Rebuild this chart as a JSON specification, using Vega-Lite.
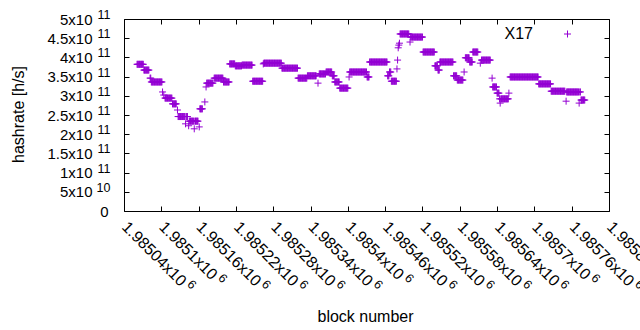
{
"$schema": "https://vega.github.io/schema/vega-lite/v6.json",
"width": 485, "height": 192,
"autosize": {"type": "none"},
"padding": {"left": 124, "top": 19, "right": 31, "bottom": 119},
"background": "white",
"config": {
 "font": "Liberation Sans",
 "view": {"stroke": null},
 "axis": {"domain": false, "grid": false, "tickColor": "#000", "tickSize": -5, "tickWidth": 1, "labelColor": "#000", "labelFont": "Liberation Sans", "labelFontSize": 15, "titleFont": "Liberation Sans", "titleFontSize": 16, "titleFontWeight": "normal", "titleColor": "#000", "labelFlush": false, "labelOverlap": false, "labelBound": false}
},
"data": {"values": [
{"b":1985061,"h":3.82e11},{"b":1985062,"h":3.82e11},{"b":1985063,"h":3.82e11},{"b":1985064,"h":3.82e11},{"b":1985065,"h":3.82e11},{"b":1985066,"h":3.82e11},{"b":1985067,"h":3.82e11},{"b":1985068,"h":3.82e11},{"b":1985069,"h":3.82e11},{"b":1985070,"h":3.82e11},{"b":1985071,"h":3.82e11},
{"b":1985072,"h":3.67e11},{"b":1985073,"h":3.67e11},{"b":1985074,"h":3.67e11},{"b":1985075,"h":3.67e11},{"b":1985076,"h":3.67e11},{"b":1985077,"h":3.67e11},{"b":1985078,"h":3.67e11},{"b":1985079,"h":3.67e11},{"b":1985080,"h":3.67e11},
{"b":1985082,"h":3.46e11},{"b":1985083,"h":3.46e11},
{"b":1985084,"h":3.36e11},{"b":1985085,"h":3.36e11},{"b":1985086,"h":3.36e11},{"b":1985087,"h":3.36e11},{"b":1985088,"h":3.36e11},{"b":1985089,"h":3.36e11},{"b":1985090,"h":3.36e11},{"b":1985091,"h":3.36e11},{"b":1985092,"h":3.36e11},{"b":1985093,"h":3.36e11},{"b":1985094,"h":3.36e11},{"b":1985095,"h":3.36e11},{"b":1985096,"h":3.36e11},{"b":1985097,"h":3.36e11},{"b":1985098,"h":3.36e11},{"b":1985099,"h":3.36e11},{"b":1985100,"h":3.36e11},{"b":1985101,"h":3.36e11},
{"b":1985102,"h":3.10e11},{"b":1985104,"h":3.02e11},
{"b":1985106,"h":2.94e11},{"b":1985107,"h":2.94e11},{"b":1985108,"h":2.94e11},{"b":1985109,"h":2.94e11},{"b":1985110,"h":2.94e11},{"b":1985111,"h":2.94e11},{"b":1985112,"h":2.94e11},{"b":1985113,"h":2.94e11},{"b":1985114,"h":2.94e11},{"b":1985115,"h":2.94e11},{"b":1985116,"h":2.94e11},{"b":1985117,"h":2.94e11},
{"b":1985118,"h":2.79e11},{"b":1985119,"h":2.79e11},{"b":1985120,"h":2.79e11},{"b":1985121,"h":2.79e11},{"b":1985122,"h":2.79e11},{"b":1985123,"h":2.79e11},{"b":1985124,"h":2.79e11},
{"b":1985126,"h":2.63e11},
{"b":1985127,"h":2.46e11},{"b":1985128,"h":2.46e11},{"b":1985129,"h":2.46e11},{"b":1985130,"h":2.46e11},{"b":1985131,"h":2.46e11},{"b":1985132,"h":2.46e11},{"b":1985133,"h":2.46e11},{"b":1985134,"h":2.46e11},{"b":1985135,"h":2.46e11},{"b":1985136,"h":2.46e11},{"b":1985137,"h":2.46e11},{"b":1985138,"h":2.46e11},{"b":1985140,"h":2.46e11},{"b":1985141,"h":2.46e11},{"b":1985142,"h":2.46e11},
{"b":1985139,"h":2.27e11},{"b":1985144,"h":2.22e11},
{"b":1985145,"h":2.34e11},{"b":1985146,"h":2.34e11},{"b":1985147,"h":2.34e11},{"b":1985148,"h":2.34e11},{"b":1985149,"h":2.34e11},{"b":1985150,"h":2.34e11},{"b":1985151,"h":2.34e11},{"b":1985152,"h":2.34e11},{"b":1985154,"h":2.34e11},{"b":1985155,"h":2.34e11},{"b":1985156,"h":2.34e11},{"b":1985157,"h":2.34e11},{"b":1985158,"h":2.34e11},{"b":1985159,"h":2.34e11},
{"b":1985153,"h":2.14e11},{"b":1985161,"h":2.19e11},
{"b":1985162,"h":2.66e11},{"b":1985163,"h":2.66e11},{"b":1985164,"h":2.66e11},{"b":1985165,"h":2.66e11},{"b":1985166,"h":2.66e11},
{"b":1985170,"h":2.84e11},{"b":1985172,"h":3.23e11},
{"b":1985173,"h":3.33e11},{"b":1985174,"h":3.33e11},{"b":1985175,"h":3.33e11},{"b":1985176,"h":3.33e11},{"b":1985177,"h":3.33e11},{"b":1985178,"h":3.33e11},{"b":1985179,"h":3.33e11},{"b":1985180,"h":3.33e11},{"b":1985181,"h":3.33e11},{"b":1985182,"h":3.33e11},{"b":1985183,"h":3.33e11},
{"b":1985185,"h":3.46e11},{"b":1985186,"h":3.46e11},{"b":1985187,"h":3.46e11},{"b":1985188,"h":3.46e11},{"b":1985189,"h":3.46e11},{"b":1985190,"h":3.46e11},{"b":1985191,"h":3.46e11},{"b":1985192,"h":3.46e11},{"b":1985193,"h":3.46e11},{"b":1985194,"h":3.46e11},{"b":1985195,"h":3.46e11},{"b":1985196,"h":3.46e11},{"b":1985197,"h":3.46e11},{"b":1985198,"h":3.46e11},{"b":1985199,"h":3.46e11},
{"b":1985200,"h":3.36e11},{"b":1985201,"h":3.36e11},{"b":1985202,"h":3.36e11},{"b":1985203,"h":3.36e11},{"b":1985204,"h":3.36e11},{"b":1985205,"h":3.36e11},{"b":1985206,"h":3.36e11},{"b":1985207,"h":3.36e11},{"b":1985208,"h":3.36e11},{"b":1985209,"h":3.36e11},
{"b":1985210,"h":3.83e11},{"b":1985211,"h":3.83e11},{"b":1985212,"h":3.83e11},{"b":1985213,"h":3.83e11},{"b":1985214,"h":3.83e11},{"b":1985215,"h":3.83e11},{"b":1985216,"h":3.83e11},{"b":1985217,"h":3.83e11},{"b":1985218,"h":3.83e11},
{"b":1985219,"h":3.78e11},{"b":1985220,"h":3.78e11},{"b":1985221,"h":3.78e11},{"b":1985222,"h":3.78e11},{"b":1985223,"h":3.78e11},{"b":1985224,"h":3.78e11},{"b":1985225,"h":3.78e11},{"b":1985226,"h":3.78e11},{"b":1985227,"h":3.78e11},{"b":1985228,"h":3.78e11},{"b":1985229,"h":3.78e11},
{"b":1985230,"h":3.80e11},{"b":1985231,"h":3.80e11},{"b":1985232,"h":3.80e11},{"b":1985233,"h":3.80e11},{"b":1985234,"h":3.80e11},{"b":1985235,"h":3.80e11},{"b":1985236,"h":3.80e11},{"b":1985237,"h":3.80e11},{"b":1985238,"h":3.80e11},{"b":1985239,"h":3.80e11},{"b":1985240,"h":3.80e11},{"b":1985241,"h":3.80e11},{"b":1985242,"h":3.80e11},{"b":1985243,"h":3.80e11},{"b":1985244,"h":3.80e11},{"b":1985245,"h":3.80e11},{"b":1985246,"h":3.80e11},
{"b":1985247,"h":3.38e11},{"b":1985248,"h":3.38e11},{"b":1985249,"h":3.38e11},{"b":1985250,"h":3.38e11},{"b":1985251,"h":3.38e11},{"b":1985252,"h":3.38e11},{"b":1985253,"h":3.38e11},{"b":1985254,"h":3.38e11},{"b":1985255,"h":3.38e11},{"b":1985256,"h":3.38e11},{"b":1985257,"h":3.38e11},{"b":1985258,"h":3.38e11},{"b":1985259,"h":3.38e11},{"b":1985260,"h":3.38e11},{"b":1985261,"h":3.38e11},{"b":1985262,"h":3.38e11},{"b":1985263,"h":3.38e11},
{"b":1985264,"h":3.83e11},
{"b":1985265,"h":3.85e11},{"b":1985266,"h":3.85e11},{"b":1985267,"h":3.85e11},{"b":1985268,"h":3.85e11},{"b":1985269,"h":3.85e11},{"b":1985270,"h":3.85e11},{"b":1985271,"h":3.85e11},{"b":1985272,"h":3.85e11},{"b":1985273,"h":3.85e11},{"b":1985274,"h":3.85e11},{"b":1985275,"h":3.85e11},{"b":1985276,"h":3.85e11},{"b":1985277,"h":3.85e11},{"b":1985278,"h":3.85e11},{"b":1985279,"h":3.85e11},{"b":1985280,"h":3.85e11},{"b":1985281,"h":3.85e11},{"b":1985282,"h":3.85e11},{"b":1985283,"h":3.85e11},{"b":1985284,"h":3.85e11},{"b":1985285,"h":3.85e11},{"b":1985286,"h":3.85e11},{"b":1985287,"h":3.85e11},{"b":1985288,"h":3.85e11},{"b":1985289,"h":3.85e11},{"b":1985290,"h":3.85e11},{"b":1985291,"h":3.85e11},{"b":1985292,"h":3.85e11},{"b":1985293,"h":3.85e11},
{"b":1985294,"h":3.72e11},{"b":1985295,"h":3.72e11},{"b":1985296,"h":3.72e11},{"b":1985297,"h":3.72e11},{"b":1985298,"h":3.72e11},{"b":1985299,"h":3.72e11},{"b":1985300,"h":3.72e11},{"b":1985301,"h":3.72e11},{"b":1985302,"h":3.72e11},{"b":1985303,"h":3.72e11},{"b":1985304,"h":3.72e11},{"b":1985305,"h":3.72e11},{"b":1985306,"h":3.72e11},{"b":1985307,"h":3.72e11},{"b":1985308,"h":3.72e11},{"b":1985309,"h":3.72e11},{"b":1985310,"h":3.72e11},{"b":1985311,"h":3.72e11},{"b":1985312,"h":3.72e11},{"b":1985313,"h":3.72e11},{"b":1985314,"h":3.72e11},{"b":1985315,"h":3.72e11},{"b":1985316,"h":3.72e11},{"b":1985317,"h":3.72e11},{"b":1985318,"h":3.72e11},{"b":1985319,"h":3.72e11},
{"b":1985320,"h":3.46e11},{"b":1985321,"h":3.46e11},{"b":1985322,"h":3.46e11},{"b":1985323,"h":3.46e11},{"b":1985324,"h":3.46e11},{"b":1985325,"h":3.46e11},{"b":1985326,"h":3.46e11},{"b":1985327,"h":3.46e11},{"b":1985328,"h":3.46e11},{"b":1985329,"h":3.46e11},{"b":1985330,"h":3.46e11},{"b":1985331,"h":3.46e11},{"b":1985332,"h":3.46e11},{"b":1985333,"h":3.46e11},{"b":1985334,"h":3.46e11},
{"b":1985335,"h":3.52e11},{"b":1985336,"h":3.52e11},{"b":1985337,"h":3.52e11},{"b":1985338,"h":3.52e11},{"b":1985339,"h":3.52e11},{"b":1985340,"h":3.52e11},{"b":1985341,"h":3.52e11},{"b":1985342,"h":3.52e11},{"b":1985343,"h":3.52e11},{"b":1985344,"h":3.52e11},{"b":1985345,"h":3.52e11},{"b":1985346,"h":3.52e11},{"b":1985347,"h":3.52e11},{"b":1985348,"h":3.52e11},{"b":1985349,"h":3.52e11},
{"b":1985352,"h":3.33e11},
{"b":1985354,"h":3.57e11},{"b":1985355,"h":3.57e11},{"b":1985356,"h":3.57e11},{"b":1985357,"h":3.57e11},{"b":1985358,"h":3.57e11},{"b":1985359,"h":3.57e11},{"b":1985360,"h":3.57e11},{"b":1985361,"h":3.57e11},{"b":1985362,"h":3.57e11},{"b":1985363,"h":3.57e11},{"b":1985364,"h":3.57e11},
{"b":1985365,"h":3.62e11},{"b":1985366,"h":3.62e11},{"b":1985367,"h":3.62e11},{"b":1985368,"h":3.62e11},{"b":1985369,"h":3.62e11},{"b":1985370,"h":3.62e11},{"b":1985371,"h":3.62e11},{"b":1985372,"h":3.62e11},{"b":1985373,"h":3.62e11},{"b":1985374,"h":3.62e11},
{"b":1985375,"h":3.52e11},{"b":1985376,"h":3.52e11},{"b":1985377,"h":3.52e11},{"b":1985378,"h":3.52e11},
{"b":1985379,"h":3.36e11},{"b":1985380,"h":3.36e11},{"b":1985381,"h":3.36e11},{"b":1985382,"h":3.36e11},{"b":1985383,"h":3.36e11},{"b":1985384,"h":3.36e11},{"b":1985385,"h":3.36e11},{"b":1985386,"h":3.36e11},
{"b":1985387,"h":3.20e11},{"b":1985388,"h":3.20e11},{"b":1985389,"h":3.20e11},{"b":1985390,"h":3.20e11},{"b":1985391,"h":3.20e11},{"b":1985392,"h":3.20e11},{"b":1985393,"h":3.20e11},{"b":1985394,"h":3.20e11},{"b":1985395,"h":3.20e11},{"b":1985396,"h":3.20e11},{"b":1985397,"h":3.20e11},{"b":1985398,"h":3.20e11},{"b":1985399,"h":3.20e11},{"b":1985400,"h":3.20e11},
{"b":1985402,"h":3.49e11},
{"b":1985403,"h":3.62e11},{"b":1985404,"h":3.62e11},{"b":1985405,"h":3.62e11},{"b":1985406,"h":3.62e11},{"b":1985407,"h":3.62e11},{"b":1985408,"h":3.62e11},{"b":1985409,"h":3.62e11},{"b":1985410,"h":3.62e11},{"b":1985411,"h":3.62e11},{"b":1985412,"h":3.62e11},{"b":1985413,"h":3.62e11},{"b":1985414,"h":3.62e11},{"b":1985415,"h":3.62e11},{"b":1985416,"h":3.62e11},{"b":1985417,"h":3.62e11},{"b":1985418,"h":3.62e11},{"b":1985419,"h":3.62e11},{"b":1985420,"h":3.62e11},{"b":1985421,"h":3.62e11},{"b":1985422,"h":3.62e11},{"b":1985423,"h":3.62e11},{"b":1985424,"h":3.62e11},{"b":1985425,"h":3.62e11},{"b":1985426,"h":3.62e11},{"b":1985427,"h":3.62e11},{"b":1985428,"h":3.62e11},{"b":1985429,"h":3.62e11},{"b":1985430,"h":3.62e11},
{"b":1985431,"h":3.49e11},{"b":1985432,"h":3.49e11},{"b":1985433,"h":3.49e11},{"b":1985434,"h":3.49e11},
{"b":1985435,"h":3.88e11},{"b":1985436,"h":3.88e11},{"b":1985437,"h":3.88e11},{"b":1985438,"h":3.88e11},{"b":1985439,"h":3.88e11},{"b":1985440,"h":3.88e11},{"b":1985441,"h":3.88e11},{"b":1985442,"h":3.88e11},{"b":1985443,"h":3.88e11},{"b":1985444,"h":3.88e11},{"b":1985445,"h":3.88e11},{"b":1985446,"h":3.88e11},{"b":1985447,"h":3.88e11},{"b":1985448,"h":3.88e11},{"b":1985449,"h":3.88e11},{"b":1985450,"h":3.88e11},{"b":1985451,"h":3.88e11},{"b":1985452,"h":3.88e11},{"b":1985453,"h":3.88e11},{"b":1985454,"h":3.88e11},{"b":1985455,"h":3.88e11},{"b":1985456,"h":3.88e11},{"b":1985457,"h":3.88e11},{"b":1985458,"h":3.88e11},{"b":1985459,"h":3.88e11},{"b":1985460,"h":3.88e11},{"b":1985461,"h":3.88e11},{"b":1985462,"h":3.88e11},{"b":1985463,"h":3.88e11},
{"b":1985464,"h":3.52e11},{"b":1985465,"h":3.52e11},{"b":1985466,"h":3.52e11},
{"b":1985467,"h":3.62e11},{"b":1985468,"h":3.62e11},{"b":1985469,"h":3.62e11},
{"b":1985470,"h":3.38e11},{"b":1985471,"h":3.38e11},{"b":1985472,"h":3.38e11},{"b":1985473,"h":3.38e11},{"b":1985474,"h":3.38e11},{"b":1985475,"h":3.38e11},{"b":1985476,"h":3.38e11},{"b":1985477,"h":3.38e11},{"b":1985478,"h":3.38e11},
{"b":1985479,"h":3.70e11},{"b":1985480,"h":3.93e11},{"b":1985481,"h":4.25e11},{"b":1985482,"h":4.32e11},{"b":1985483,"h":4.37e11},
{"b":1985484,"h":4.61e11},{"b":1985485,"h":4.61e11},{"b":1985486,"h":4.61e11},{"b":1985487,"h":4.61e11},{"b":1985488,"h":4.61e11},{"b":1985489,"h":4.61e11},{"b":1985490,"h":4.61e11},{"b":1985491,"h":4.61e11},{"b":1985492,"h":4.61e11},{"b":1985493,"h":4.61e11},{"b":1985494,"h":4.61e11},{"b":1985495,"h":4.61e11},{"b":1985496,"h":4.61e11},{"b":1985497,"h":4.61e11},{"b":1985498,"h":4.61e11},
{"b":1985500,"h":4.40e11},
{"b":1985501,"h":4.53e11},{"b":1985502,"h":4.53e11},{"b":1985503,"h":4.53e11},{"b":1985504,"h":4.53e11},{"b":1985505,"h":4.53e11},{"b":1985506,"h":4.53e11},{"b":1985507,"h":4.53e11},{"b":1985508,"h":4.53e11},{"b":1985509,"h":4.53e11},{"b":1985510,"h":4.53e11},{"b":1985511,"h":4.53e11},{"b":1985512,"h":4.53e11},{"b":1985513,"h":4.53e11},{"b":1985514,"h":4.53e11},{"b":1985515,"h":4.53e11},{"b":1985516,"h":4.53e11},{"b":1985517,"h":4.53e11},{"b":1985518,"h":4.53e11},{"b":1985519,"h":4.53e11},{"b":1985520,"h":4.53e11},
{"b":1985521,"h":4.14e11},{"b":1985522,"h":4.14e11},{"b":1985523,"h":4.14e11},{"b":1985524,"h":4.14e11},{"b":1985525,"h":4.14e11},{"b":1985526,"h":4.14e11},{"b":1985527,"h":4.14e11},{"b":1985528,"h":4.14e11},{"b":1985529,"h":4.14e11},{"b":1985530,"h":4.14e11},{"b":1985531,"h":4.14e11},{"b":1985532,"h":4.14e11},{"b":1985533,"h":4.14e11},{"b":1985534,"h":4.14e11},{"b":1985535,"h":4.14e11},{"b":1985536,"h":4.14e11},{"b":1985537,"h":4.14e11},{"b":1985538,"h":4.14e11},{"b":1985539,"h":4.14e11},
{"b":1985540,"h":3.78e11},{"b":1985541,"h":3.78e11},{"b":1985542,"h":3.78e11},{"b":1985543,"h":3.78e11},{"b":1985544,"h":3.78e11},
{"b":1985545,"h":3.67e11},{"b":1985546,"h":3.67e11},{"b":1985547,"h":3.67e11},
{"b":1985548,"h":3.88e11},{"b":1985549,"h":3.88e11},{"b":1985550,"h":3.88e11},{"b":1985551,"h":3.88e11},{"b":1985552,"h":3.88e11},{"b":1985553,"h":3.88e11},{"b":1985554,"h":3.88e11},{"b":1985555,"h":3.88e11},{"b":1985556,"h":3.88e11},{"b":1985557,"h":3.88e11},{"b":1985558,"h":3.88e11},{"b":1985559,"h":3.88e11},{"b":1985560,"h":3.88e11},{"b":1985561,"h":3.88e11},{"b":1985562,"h":3.88e11},{"b":1985563,"h":3.88e11},{"b":1985564,"h":3.88e11},{"b":1985565,"h":3.88e11},{"b":1985566,"h":3.88e11},{"b":1985567,"h":3.88e11},{"b":1985568,"h":3.88e11},{"b":1985569,"h":3.88e11},
{"b":1985570,"h":3.52e11},{"b":1985571,"h":3.52e11},{"b":1985572,"h":3.52e11},{"b":1985573,"h":3.52e11},{"b":1985574,"h":3.52e11},{"b":1985575,"h":3.52e11},
{"b":1985576,"h":3.41e11},{"b":1985577,"h":3.41e11},{"b":1985578,"h":3.41e11},{"b":1985579,"h":3.41e11},{"b":1985580,"h":3.41e11},{"b":1985581,"h":3.41e11},{"b":1985582,"h":3.41e11},{"b":1985583,"h":3.41e11},{"b":1985584,"h":3.41e11},{"b":1985585,"h":3.41e11},
{"b":1985587,"h":3.62e11},
{"b":1985589,"h":3.99e11},{"b":1985590,"h":3.99e11},{"b":1985591,"h":3.99e11},{"b":1985592,"h":3.99e11},{"b":1985593,"h":3.99e11},{"b":1985594,"h":3.99e11},{"b":1985595,"h":3.99e11},
{"b":1985596,"h":3.88e11},{"b":1985597,"h":3.88e11},{"b":1985598,"h":3.88e11},{"b":1985599,"h":3.88e11},{"b":1985600,"h":3.88e11},
{"b":1985601,"h":4.14e11},{"b":1985602,"h":4.14e11},{"b":1985603,"h":4.14e11},{"b":1985604,"h":4.14e11},{"b":1985605,"h":4.14e11},{"b":1985606,"h":4.14e11},{"b":1985607,"h":4.14e11},{"b":1985608,"h":4.14e11},{"b":1985609,"h":4.14e11},
{"b":1985613,"h":3.85e11},
{"b":1985615,"h":3.93e11},{"b":1985616,"h":3.93e11},{"b":1985617,"h":3.93e11},{"b":1985618,"h":3.93e11},{"b":1985619,"h":3.93e11},{"b":1985620,"h":3.93e11},{"b":1985621,"h":3.93e11},{"b":1985622,"h":3.93e11},{"b":1985623,"h":3.93e11},{"b":1985624,"h":3.93e11},{"b":1985625,"h":3.93e11},{"b":1985626,"h":3.93e11},{"b":1985627,"h":3.93e11},{"b":1985628,"h":3.93e11},{"b":1985629,"h":3.93e11},
{"b":1985632,"h":3.46e11},
{"b":1985633,"h":3.23e11},{"b":1985634,"h":3.23e11},{"b":1985635,"h":3.23e11},{"b":1985636,"h":3.23e11},{"b":1985637,"h":3.23e11},{"b":1985638,"h":3.23e11},{"b":1985639,"h":3.23e11},
{"b":1985640,"h":3.07e11},{"b":1985641,"h":3.07e11},{"b":1985642,"h":3.07e11},{"b":1985643,"h":3.07e11},
{"b":1985644,"h":2.92e11},{"b":1985646,"h":2.92e11},{"b":1985647,"h":2.92e11},{"b":1985648,"h":2.92e11},{"b":1985649,"h":2.92e11},{"b":1985650,"h":2.92e11},{"b":1985651,"h":2.92e11},{"b":1985652,"h":2.92e11},{"b":1985653,"h":2.92e11},{"b":1985654,"h":2.92e11},{"b":1985655,"h":2.92e11},{"b":1985656,"h":2.92e11},{"b":1985657,"h":2.92e11},{"b":1985658,"h":2.92e11},
{"b":1985645,"h":2.81e11},{"b":1985659,"h":3.07e11},
{"b":1985661,"h":3.49e11},{"b":1985662,"h":3.49e11},{"b":1985663,"h":3.49e11},{"b":1985664,"h":3.49e11},{"b":1985665,"h":3.49e11},{"b":1985666,"h":3.49e11},{"b":1985667,"h":3.49e11},{"b":1985668,"h":3.49e11},{"b":1985669,"h":3.49e11},{"b":1985670,"h":3.49e11},{"b":1985671,"h":3.49e11},{"b":1985672,"h":3.49e11},{"b":1985673,"h":3.49e11},{"b":1985674,"h":3.49e11},{"b":1985675,"h":3.49e11},{"b":1985676,"h":3.49e11},{"b":1985677,"h":3.49e11},{"b":1985678,"h":3.49e11},{"b":1985679,"h":3.49e11},{"b":1985680,"h":3.49e11},{"b":1985681,"h":3.49e11},{"b":1985682,"h":3.49e11},{"b":1985683,"h":3.49e11},{"b":1985684,"h":3.49e11},{"b":1985685,"h":3.49e11},{"b":1985686,"h":3.49e11},{"b":1985687,"h":3.49e11},{"b":1985688,"h":3.49e11},{"b":1985689,"h":3.49e11},{"b":1985690,"h":3.49e11},{"b":1985691,"h":3.49e11},{"b":1985692,"h":3.49e11},{"b":1985693,"h":3.49e11},{"b":1985694,"h":3.49e11},{"b":1985695,"h":3.49e11},{"b":1985696,"h":3.49e11},{"b":1985697,"h":3.49e11},{"b":1985698,"h":3.49e11},{"b":1985699,"h":3.49e11},{"b":1985700,"h":3.49e11},{"b":1985701,"h":3.49e11},{"b":1985702,"h":3.49e11},{"b":1985703,"h":3.49e11},{"b":1985704,"h":3.49e11},{"b":1985705,"h":3.49e11},{"b":1985706,"h":3.49e11},
{"b":1985707,"h":3.31e11},{"b":1985708,"h":3.31e11},{"b":1985709,"h":3.31e11},{"b":1985710,"h":3.31e11},{"b":1985711,"h":3.31e11},{"b":1985712,"h":3.31e11},{"b":1985713,"h":3.31e11},{"b":1985714,"h":3.31e11},{"b":1985715,"h":3.31e11},{"b":1985716,"h":3.31e11},{"b":1985717,"h":3.31e11},{"b":1985718,"h":3.31e11},{"b":1985719,"h":3.31e11},{"b":1985720,"h":3.31e11},{"b":1985721,"h":3.31e11},{"b":1985722,"h":3.31e11},{"b":1985723,"h":3.31e11},{"b":1985724,"h":3.31e11},{"b":1985725,"h":3.31e11},{"b":1985726,"h":3.31e11},
{"b":1985727,"h":3.12e11},{"b":1985728,"h":3.12e11},{"b":1985729,"h":3.12e11},{"b":1985730,"h":3.12e11},{"b":1985731,"h":3.12e11},{"b":1985732,"h":3.12e11},{"b":1985733,"h":3.12e11},{"b":1985734,"h":3.12e11},{"b":1985735,"h":3.12e11},{"b":1985736,"h":3.12e11},{"b":1985737,"h":3.12e11},{"b":1985738,"h":3.12e11},{"b":1985739,"h":3.12e11},{"b":1985740,"h":3.12e11},{"b":1985741,"h":3.12e11},{"b":1985742,"h":3.12e11},{"b":1985743,"h":3.12e11},{"b":1985744,"h":3.12e11},{"b":1985745,"h":3.12e11},{"b":1985746,"h":3.12e11},{"b":1985747,"h":3.12e11},{"b":1985748,"h":3.12e11},{"b":1985749,"h":3.12e11},
{"b":1985751,"h":2.86e11},
{"b":1985752,"h":3.10e11},{"b":1985753,"h":3.10e11},{"b":1985754,"h":3.10e11},{"b":1985755,"h":3.10e11},{"b":1985756,"h":3.10e11},{"b":1985757,"h":3.10e11},{"b":1985758,"h":3.10e11},{"b":1985759,"h":3.10e11},{"b":1985760,"h":3.10e11},{"b":1985761,"h":3.10e11},{"b":1985762,"h":3.10e11},{"b":1985763,"h":3.10e11},{"b":1985764,"h":3.10e11},{"b":1985765,"h":3.10e11},{"b":1985766,"h":3.10e11},{"b":1985767,"h":3.10e11},{"b":1985768,"h":3.10e11},{"b":1985769,"h":3.10e11},{"b":1985770,"h":3.10e11},{"b":1985771,"h":3.10e11},{"b":1985773,"h":3.10e11},{"b":1985774,"h":3.10e11},
{"b":1985772,"h":2.81e11},
{"b":1985775,"h":2.89e11},{"b":1985776,"h":2.89e11},{"b":1985777,"h":2.89e11},{"b":1985778,"h":2.89e11},{"b":1985779,"h":2.89e11},{"b":1985780,"h":2.89e11},{"b":1985781,"h":2.89e11}
]},
"layer": [
 {
  "data": {"values": [{"x0": 1985040, "x1": 1985820, "y0": 0, "y1": 5e11}]},
  "mark": {"type": "rect", "filled": false, "fill": "transparent", "stroke": "#000", "strokeWidth": 1, "xOffset": 0.5, "x2Offset": 0.5, "yOffset": 0.5, "y2Offset": 0.5},
  "encoding": {
   "x": {"field": "x0", "type": "quantitative", "axis": null},
   "x2": {"field": "x1"},
   "y": {"field": "y0", "type": "quantitative", "axis": null},
   "y2": {"field": "y1"}
  }
 },
 {
  "mark": {"type": "point", "shape": "M-1,0H1M0,-1V1", "filled": false, "size": 49, "strokeWidth": 1, "opacity": 1},
  "encoding": {
   "x": {"field": "b", "type": "quantitative", "scale": {"domain": [1985040, 1985820], "nice": false, "zero": false},
    "axis": {"orient": "bottom", "values": [1985040,1985100,1985160,1985220,1985280,1985340,1985400,1985460,1985520,1985580,1985640,1985700,1985760,1985820],
     "labelExpr": "format(datum.value/1e6,'.6~g')+'x10'", "labelFontSize": 16, "labelAngle": 45, "labelAlign": "left", "labelBaseline": "middle", "labelPadding": 18,
     "title": "block number", "titleX": 241, "titleY": 110, "titleAlign": "center", "titleBaseline": "alphabetic", "titleAngle": 0}},
   "y": {"field": "h", "type": "quantitative", "scale": {"domain": [0, 5e11], "nice": false, "zero": true},
    "axis": {"orient": "left", "values": [0,5e10,1e11,1.5e11,2e11,2.5e11,3e11,3.5e11,4e11,4.5e11,5e11],
     "labelExpr": "datum.value == 0 ? '0' : (datum.value < 1e11 ? format(datum.value/1e10,'~g') : format(datum.value/1e11,'~g')) + 'x10'",
     "labelAlign": "right", "labelBaseline": "middle", "labelPadding": {"condition": {"test": "datum.value == 0", "value": 21}, "value": 37},
     "title": "hashrate [h/s]", "titleX": -106, "titleY": 95, "titleAngle": -90, "titleAlign": "center", "titleBaseline": "middle"}},
   "color": {"datum": "X17", "type": "nominal", "scale": {"range": ["#9400d3"]},
    "legend": {"orient": "none", "legendX": 435.5, "legendY": 7, "title": null, "padding": 0, "labelAlign": "right", "labelOffset": -42.5, "labelFontSize": 16, "labelFont": "Liberation Sans", "labelColor": "#000", "symbolType": "M-1,0H1M0,-1V1", "symbolSize": 49, "symbolStrokeWidth": 1}}
  }
 },
 {
  "mark": {"type": "point", "opacity": 0},
  "encoding": {
   "x": {"field": "b", "type": "quantitative",
    "axis": {"orient": "bottom", "values": [1985040,1985100,1985160,1985220,1985280,1985340,1985400,1985460,1985520,1985580,1985640,1985700,1985760,1985820],
     "labelExpr": "'6'", "labelFontSize": 12.5, "labelAngle": 45, "labelAlign": "left", "labelBaseline": "middle", "ticks": false,
     "labelOffset": {"condition": {"test": "datum.value == 1985100 || datum.value == 1985400 || datum.value == 1985700", "value": 58.5}, "value": 64.8},
     "labelPadding": {"condition": {"test": "datum.value == 1985100 || datum.value == 1985400 || datum.value == 1985700", "value": 64.4}, "value": 70.7},
     "title": null}},
   "y": {"field": "h", "type": "quantitative",
    "axis": {"orient": "left", "values": [0,5e10,1e11,1.5e11,2e11,2.5e11,3e11,3.5e11,4e11,4.5e11,5e11], "ticks": false,
     "labelExpr": "datum.value == 0 ? '' : (datum.value < 1e11 ? '10' : '11')", "labelFontSize": 12.5, "labelAlign": "right", "labelBaseline": "middle", "labelPadding": 14, "labelOffset": -4.5, "title": null}}
  }
 },
 {
  "mark": {"type": "point", "opacity": 0},
  "encoding": {
   "x": {"field": "b", "type": "quantitative",
    "axis": {"orient": "top", "values": [1985040,1985100,1985160,1985220,1985280,1985340,1985400,1985460,1985520,1985580,1985640,1985700,1985760,1985820], "labels": false, "title": null}},
   "y": {"field": "h", "type": "quantitative",
    "axis": {"orient": "right", "values": [0,5e10,1e11,1.5e11,2e11,2.5e11,3e11,3.5e11,4e11,4.5e11,5e11], "labels": false, "title": null}}
  }
 }
],
"resolve": {"axis": {"x": "independent", "y": "independent"}}
}
